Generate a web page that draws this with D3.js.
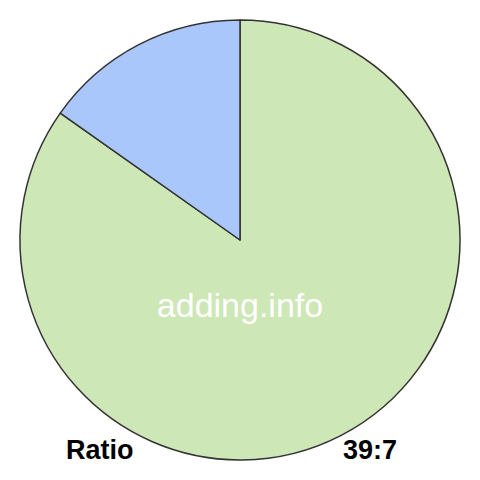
<!DOCTYPE html>
<html><head><meta charset="utf-8">
<script src="https://cdn.jsdelivr.net/npm/d3@7"></script>
<style>html,body{margin:0;padding:0;background:#fff;}</style>
</head><body>
<svg id="c" width="480" height="480"></svg>
<script>
const categories = ["A", "B"];
const values = [39, 7];
const colors = ["#cde7b7", "#a9c7fb"];
const watermark = "adding.info";
const leftLabel = "Ratio";
const rightLabel = "39:7";

const svg = d3.select("#c");
const cx = 240, cy = 240, r = 220;
const g = svg.append("g").attr("transform", `translate(${cx},${cy})`);
const pie = d3.pie().sort(null).value(d => d.v);
const arc = d3.arc().innerRadius(0).outerRadius(r);
const data = categories.map((c, i) => ({c, v: values[i], col: colors[i]}));
g.selectAll("path").data(pie(data)).enter().append("path")
  .attr("d", arc)
  .attr("fill", d => d.data.col)
  .attr("stroke", "#333")
  .attr("stroke-width", 1.5)
  .attr("stroke-linejoin", "round");

svg.append("text").attr("x", 240).attr("y", 317).attr("text-anchor", "middle")
  .attr("font-family", "Liberation Sans, Arial, sans-serif").attr("font-size", 34)
  .attr("fill", "#fff").text(watermark);
svg.append("text").attr("x", 66).attr("y", 459)
  .attr("font-family", "Liberation Sans, Arial, sans-serif").attr("font-size", 27).attr("font-weight", "bold")
  .attr("fill", "#000").text(leftLabel);
svg.append("text").attr("x", 397).attr("y", 459).attr("text-anchor", "end")
  .attr("font-family", "Liberation Sans, Arial, sans-serif").attr("font-size", 27).attr("font-weight", "bold")
  .attr("fill", "#000").text(rightLabel);
</script>
</body></html>
